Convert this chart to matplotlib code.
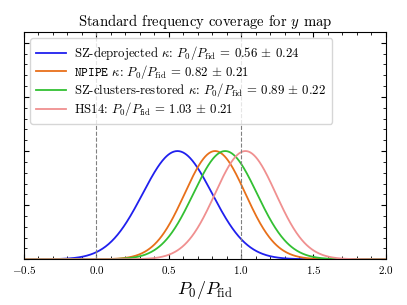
import numpy as np
import matplotlib
matplotlib.use('Agg')
import matplotlib.pyplot as plt
from matplotlib.ticker import MultipleLocator

plt.rcParams['font.family'] = 'serif'
plt.rcParams['font.serif'] = ['cmr10']
plt.rcParams['mathtext.fontset'] = 'cm'
plt.rcParams['axes.formatter.use_mathtext'] = True

labels = [r'SZ-deprojected $\kappa$:',
          r'$\mathtt{NPIPE}$ $\kappa$:',
          r'SZ-clusters-restored $\kappa$:',
          r'HS14:']
means = [0.56, 0.82, 0.89, 1.03]
sigmas = [0.24, 0.21, 0.22, 0.21]
colors = ['#2020ee', '#e8701a', '#33c033', '#f09090']

x = np.linspace(-0.5, 2.0, 600)

fig, ax = plt.subplots(figsize=(4.07, 3.05), dpi=100)
fig.subplots_adjust(left=0.059, right=0.948, top=0.895, bottom=0.15)

for lab, m, s, c in zip(labels, means, sigmas, colors):
    y = np.exp(-0.5 * ((x - m) / s) ** 2)
    ax.plot(x, y, color=c, lw=1.3,
            label=lab + r' $P_0/P_{\rm fid}$ = %.2f $\pm$ %.2f' % (m, s))

ax.axvline(0, color='gray', ls='--', lw=0.8)
ax.axvline(1, color='gray', ls='--', lw=0.8)

ax.set_xlim(-0.5, 2.0)
ax.set_ylim(0, 2.1)
ax.xaxis.set_major_locator(MultipleLocator(0.5))
ax.xaxis.set_minor_locator(MultipleLocator(0.1))
ax.yaxis.set_major_locator(MultipleLocator(0.5))
ax.yaxis.set_minor_locator(MultipleLocator(0.1))
ax.tick_params(which='both', direction='in', top=True, right=True, labelsize=8)
ax.tick_params(which='major', length=3.5)
ax.tick_params(which='minor', length=2)
ax.set_yticklabels([])

ax.set_xlabel(r'$P_0/P_{\rm fid}$', fontsize=13, labelpad=2)
ax.set_title(r'Standard frequency coverage for $y$ map', fontsize=10.6, pad=4)
ax.legend(loc='upper left', fontsize=9.2, frameon=True, handlelength=2.3,
          handletextpad=0.7, borderaxespad=0.5, labelspacing=0.05,
          borderpad=0.45)

fig.savefig('out.png', dpi=100)
